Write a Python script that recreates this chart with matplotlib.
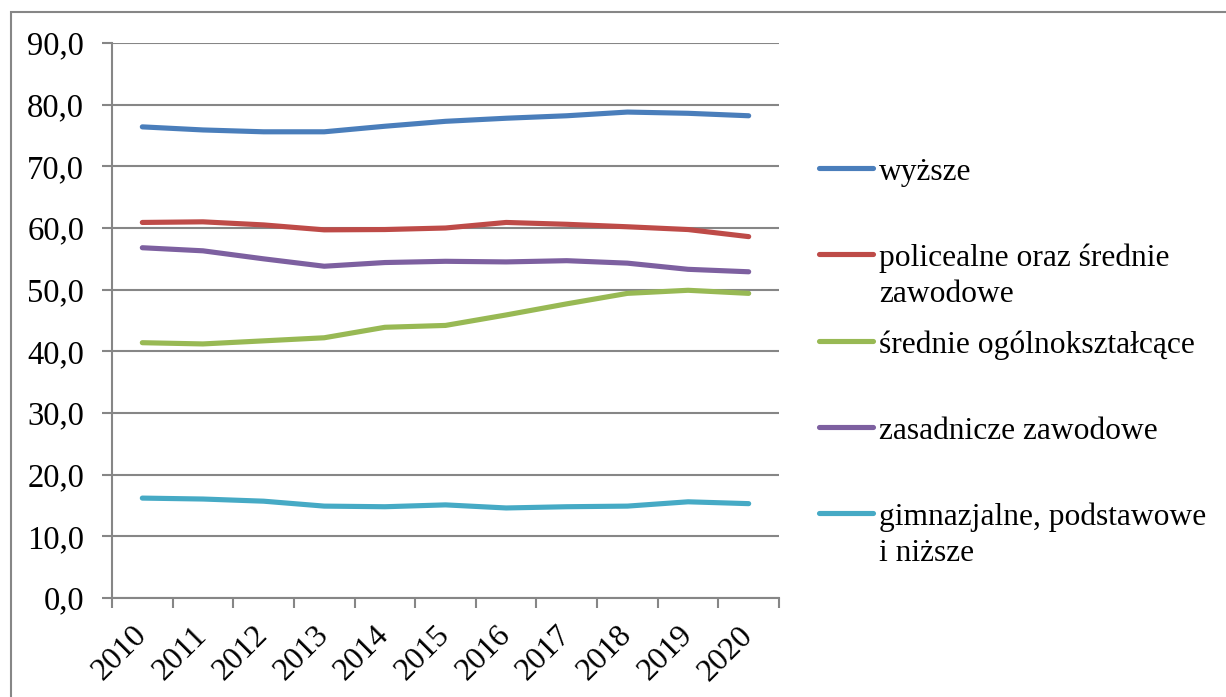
"""Line chart: share by education level, 2010-2020 (Excel-style look)."""

import matplotlib
matplotlib.use("Agg")
from matplotlib import pyplot as plt
from matplotlib.lines import Line2D
from matplotlib.patches import Rectangle
from matplotlib.ticker import FuncFormatter
from matplotlib.transforms import ScaledTranslation

plt.rcParams['font.family'] = ['Liberation Serif', 'DejaVu Serif']

# ── data ──────────────────────────────────────────────────────────────────
years = ['2010', '2011', '2012', '2013', '2014', '2015',
         '2016', '2017', '2018', '2019', '2020']

wyzsze = [76.4, 75.9, 75.6, 75.6, 76.5, 77.3, 77.8, 78.2, 78.8, 78.6, 78.2]
policealne = [60.9, 61.0, 60.5, 59.7, 59.75, 60.0, 60.9, 60.6, 60.2, 59.75, 58.6]
srednie_ogolne = [41.4, 41.2, 41.7, 42.2, 43.9, 44.2, 45.9, 47.7, 49.4, 49.9, 49.4]
zasadnicze = [56.8, 56.3, 55.0, 53.8, 54.4, 54.6, 54.5, 54.7, 54.3, 53.3, 52.9]
gimnazjalne = [16.2, 16.05, 15.7, 14.9, 14.8, 15.1, 14.6, 14.8, 14.9, 15.6, 15.3]

labels = ['wyższe', 'policealne oraz średnie\nzawodowe', 'średnie ogólnokształcące',
          'zasadnicze zawodowe', 'gimnazjalne, podstawowe\ni niższe']
series = [wyzsze, policealne, srednie_ogolne, zasadnicze, gimnazjalne]
colors = ['#4A7EBB', '#BE4B48', '#98B954', '#7D60A0', '#46AAC5']

GRID = '#868686'

# ── figure ────────────────────────────────────────────────────────────────
W, H = 1226, 697
fig = plt.figure(figsize=(W / 100, H / 100), dpi=100)

# outer chart border (runs off right/bottom edge)
fig.add_artist(Rectangle((11 / W, -0.1), 1.2, 1 - 12 / H + 0.1, transform=fig.transFigure,
                         fill=False, edgecolor=GRID, linewidth=1.5))

ax = fig.add_axes([112 / W, 1 - 598 / H, (779 - 112) / W, (598 - 43) / H])
x = list(range(len(years)))
for vals, c in zip(series, colors):
    ax.plot(x, vals, color=c, linewidth=3.7, solid_capstyle='round',
            solid_joinstyle='round', zorder=3)

ax.set_xlim(-0.5, len(years) - 0.5)
ax.set_ylim(0, 90)
ax.set_yticks(range(0, 91, 10))
ax.yaxis.set_major_formatter(FuncFormatter(lambda v, _p: f"{v:.1f}".replace('.', ',')))
ax.grid(axis='y', color=GRID, linewidth=1.5, zorder=1)
ax.set_axisbelow(True)

# category ticks sit between years; rotated year labels placed at centres
ax.set_xticks([i - 0.5 for i in range(len(years) + 1)])
ax.set_xticklabels([])
ax.tick_params(axis='x', length=7, width=1.5, color=GRID)
ax.tick_params(axis='y', length=7, width=1.5, color=GRID, labelsize=23.5, pad=13)

lab_tf = ax.get_xaxis_transform() + ScaledTranslation(0, -33 / 100, fig.dpi_scale_trans)
for xi, yr in zip(x, years):
    ax.text(xi, 0, yr, transform=lab_tf, rotation=45, rotation_mode='anchor',
            ha='right', va='center', fontsize=23, clip_on=False)

for side in ('top', 'right'):
    ax.spines[side].set_visible(False)
for side in ('left', 'bottom'):
    ax.spines[side].set_color(GRID)
    ax.spines[side].set_linewidth(1.5)

# ── legend (handle aligned with first text line, like Excel) ─────────────
leg_y = [168, 254, 341, 427, 513]
line_step = 35.7
for lab, c, yy in zip(labels, colors, leg_y):
    fy = 1 - yy / H
    fig.add_artist(Line2D([819 / W, 873 / W], [fy, fy], transform=fig.transFigure,
                          color=c, linewidth=3.7, solid_capstyle='round'))
    for k, part in enumerate(lab.split('\n')):
        fig.text(879 / W, 1 - (yy + 12 + k * line_step) / H, part, fontsize=22.7,
                 va='baseline', ha='left')

fig.savefig('out.png', dpi=100)
